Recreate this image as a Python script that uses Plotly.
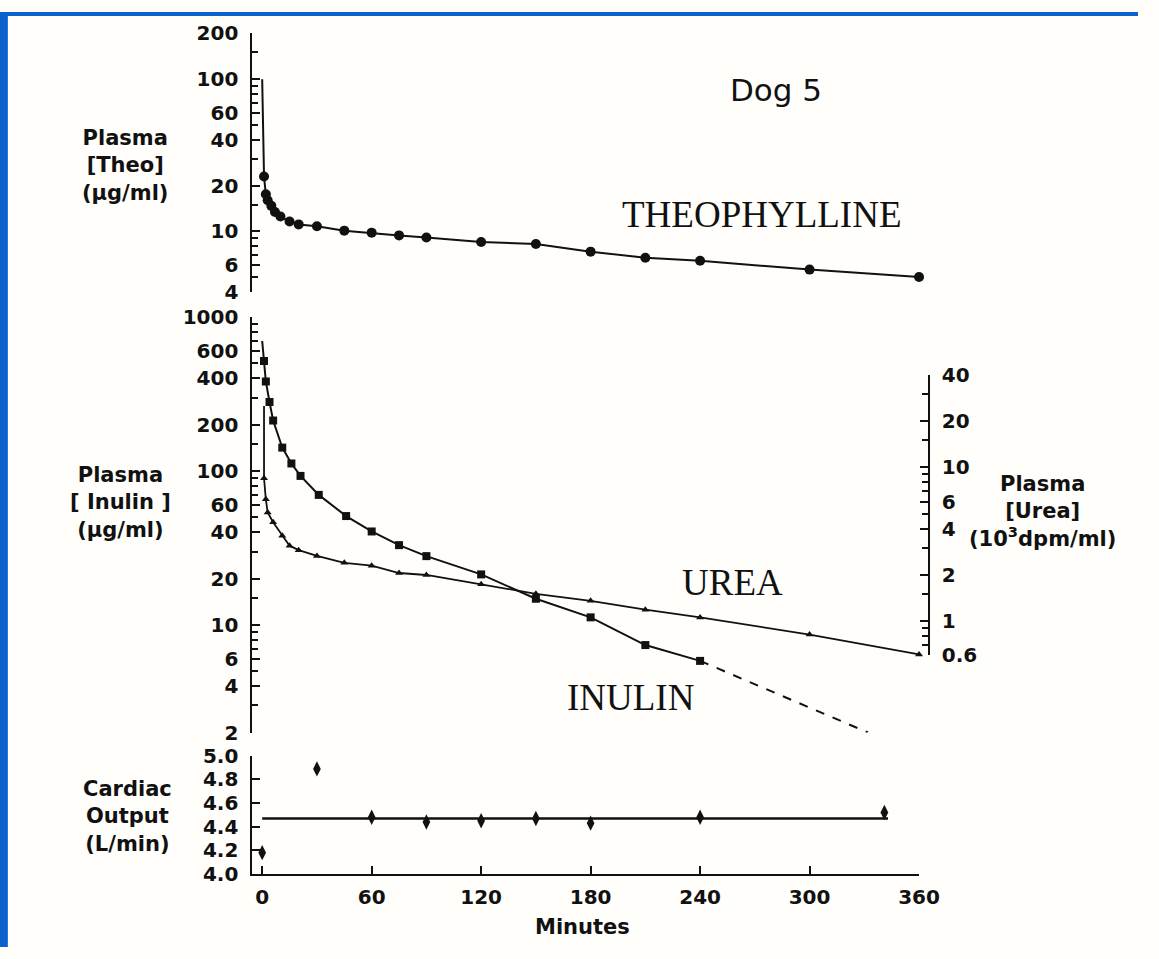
import math
import plotly.graph_objects as go

# ---- data ----
# Theophylline (ug/ml), top panel
theo_t = [1, 2, 3, 5, 7, 10, 15, 20, 30, 45, 60, 75, 90, 120, 150, 180, 210, 240, 300, 360]
theo = [22.9, 17.5, 16.0, 14.7, 13.4, 12.5, 11.6, 11.1, 10.8, 10.1, 9.8, 9.4, 9.1,
        8.5, 8.25, 7.35, 6.7, 6.4, 5.6, 5.0]
theo_peak_t = 0
theo_peak = 100

# Inulin (ug/ml), middle panel, left axis
inulin_t = [1, 2, 4, 6, 11, 16, 21, 31, 46, 60, 75, 90, 120, 150, 180, 210, 240]
inulin = [519, 382, 281, 213, 142, 112, 93, 70, 51, 40.5, 33, 28, 21.3, 14.8, 11.2, 7.4, 5.84]
inulin_peak_t = 0
inulin_peak = 700
inulin_extrap_t = [240, 332]
inulin_extrap = [5.84, 2.0]

# Urea (10^3 dpm/ml), middle panel, right axis
urea_t = [1, 2, 3, 6, 11, 15, 20, 30, 45, 60, 75, 90, 120, 150, 180, 210, 240, 300, 360]
urea = [8.5, 6.2, 5.1, 4.4, 3.6, 3.1, 2.9, 2.66, 2.4, 2.3, 2.06, 2.0, 1.74, 1.51, 1.36,
        1.19, 1.06, 0.82, 0.61]
urea_peak_t = 1
urea_peak = 25

# Cardiac output (L/min), bottom panel
co_t = [0, 30, 60, 90, 120, 150, 180, 240, 341]
co = [4.18, 4.89, 4.48, 4.44, 4.45, 4.47, 4.43, 4.48, 4.52]
co_mean_t = [0, 343]
co_mean = [4.47, 4.47]

x_ticks = [0, 60, 120, 180, 240, 300, 360]
theo_labels = [4, 6, 10, 20, 40, 60, 100, 200]
theo_minor = [5, 7, 8, 9, 15, 30, 50, 70, 80, 90, 150]
inulin_labels = [2, 4, 6, 10, 20, 40, 60, 100, 200, 400, 600, 1000]
inulin_minor = [3, 5, 7, 8, 9, 15, 30, 50, 70, 80, 90, 150, 300, 500, 700, 800, 900]
urea_labels = [0.6, 1, 2, 4, 6, 10, 20, 40]
urea_minor = [0.7, 0.8, 0.9, 1.5, 3, 5, 7, 8, 9, 15, 30]
co_ticks = [4.0, 4.2, 4.4, 4.6, 4.8, 5.0]

W, H = 1159, 959
INK = '#111111'


def px(x):
    return x / W


def py(y):
    return 1 - y / H


tick_font = dict(family='DejaVu Sans', size=20, color=INK, weight='bold')

fig = go.Figure()

# theophylline
fig.add_trace(go.Scatter(x=[theo_peak_t] + theo_t, y=[theo_peak] + theo, mode='lines',
                         line=dict(color=INK, width=2), yaxis='y3', cliponaxis=False))
fig.add_trace(go.Scatter(x=theo_t, y=theo, mode='markers', yaxis='y3', cliponaxis=False,
                         marker=dict(symbol='circle', size=10, color=INK)))
# inulin
fig.add_trace(go.Scatter(x=[inulin_peak_t] + inulin_t, y=[inulin_peak] + inulin, mode='lines',
                         line=dict(color=INK, width=2), yaxis='y2', cliponaxis=False))
fig.add_trace(go.Scatter(x=inulin_extrap_t, y=inulin_extrap, mode='lines', yaxis='y2',
                         line=dict(color=INK, width=2, dash='dash'), cliponaxis=False))
fig.add_trace(go.Scatter(x=inulin_t, y=inulin, mode='markers', yaxis='y2', cliponaxis=False,
                         marker=dict(symbol='square', size=8, color=INK)))
# urea
fig.add_trace(go.Scatter(x=[urea_peak_t] + urea_t, y=[urea_peak] + urea, mode='lines',
                         line=dict(color=INK, width=1.8), yaxis='y4', cliponaxis=False))
fig.add_trace(go.Scatter(x=urea_t, y=urea, mode='markers', yaxis='y4', cliponaxis=False,
                         marker=dict(symbol='triangle-up', size=7, color=INK)))
# cardiac output
fig.add_trace(go.Scatter(x=co_mean_t, y=co_mean, mode='lines', yaxis='y', cliponaxis=False,
                         line=dict(color=INK, width=2.5)))
fig.add_trace(go.Scatter(x=co_t, y=co, mode='markers', yaxis='y', cliponaxis=False,
                         marker=dict(symbol='diamond-tall', size=11, color=INK)))

axis_common = dict(showline=True, linecolor=INK, linewidth=2, showgrid=False, zeroline=False,
                   ticks='inside', ticklen=8, tickwidth=1.8, tickcolor=INK, tickfont=tick_font)


def log_axis(labels, minor, lo, hi, dom):
    return dict(axis_common, type='log', range=[math.log10(lo), math.log10(hi)], domain=dom,
                tickmode='array', tickvals=labels, ticktext=['%g' % t for t in labels],
                minor=dict(tickmode='array', tickvals=minor, ticks='inside', ticklen=6,
                           tickwidth=1.5, tickcolor=INK, showgrid=False))


fig.update_layout(
    width=W, height=H, showlegend=False,
    margin=dict(l=0, r=0, t=0, b=0),
    paper_bgcolor='#fffefb', plot_bgcolor='rgba(0,0,0,0)',
    xaxis=dict(axis_common, range=[-5.4, 360], domain=[px(257), px(936)], anchor='y',
               tickvals=x_ticks, ticklabelstandoff=4),
    yaxis=dict(axis_common, range=[4.0, 5.0], domain=[py(884), py(763)], anchor='x',
               tickvals=co_ticks, ticktext=['%.1f' % v for v in co_ticks], ticklabelstandoff=8),
    yaxis2=dict(log_axis(inulin_labels, inulin_minor, 2, 1000, [py(739), py(313)]),
                anchor='x', ticklabelstandoff=8),
    yaxis3=dict(log_axis(theo_labels, theo_minor, 4, 200, [py(287), py(22)]),
                anchor='x', ticklabelstandoff=8),
    yaxis4=dict(log_axis(urea_labels, urea_minor, 0.6, 40, [py(660), py(372)]),
                anchor='free', position=px(946), side='right', ticklabelstandoff=8),
    shapes=[
        dict(type='rect', xref='paper', yref='paper', x0=0, x1=px(8), y0=0, y1=1,
             fillcolor='#0c62cc', line=dict(width=0), layer='below'),
        dict(type='rect', xref='paper', yref='paper', x0=0, x1=1, y0=py(4), y1=1,
             fillcolor='#0c62cc', line=dict(width=0), layer='below'),
    ],
)

title_font = dict(family='DejaVu Sans', size=21, color=INK, weight='bold')
serif_font = dict(family='Liberation Serif', size=37, color=INK)


def note(x, y, text, font):
    fig.add_annotation(x=px(x), y=py(y), xref='paper', yref='paper', text=text,
                       showarrow=False, font=font, align='center',
                       xanchor='center', yanchor='middle')


note(790, 80, 'Dog 5', dict(family='DejaVu Sans', size=31, color=INK))
note(776, 208, 'THEOPHYLLINE', serif_font)
note(746, 585, 'UREA', serif_font)
note(642, 703, 'INULIN', serif_font)
note(127, 157, 'Plasma<br>[Theo]<br>(µg/ml)', title_font)
note(123, 503, 'Plasma<br>[ Inulin ]<br>(µg/ml)', title_font)
note(1062, 512, 'Plasma<br>[Urea]<br>(10<sup>3</sup>dpm/ml)', title_font)
note(130, 825, 'Cardiac<br>Output<br>(L/min)', title_font)
note(593, 938, 'Minutes', dict(family='DejaVu Sans', size=21, color=INK, weight='bold'))

# pin the figure to the top-left corner of the window so it fills it exactly
pin = ("document.body.style.margin='0';document.body.style.overflow='hidden';"
       "var d=document.getElementsByClassName('plotly-graph-div')[0];"
       "d.style.position='fixed';d.style.left='0';d.style.top='0';")
fig.write_html('out.html', config={'displayModeBar': False}, post_script=pin)
